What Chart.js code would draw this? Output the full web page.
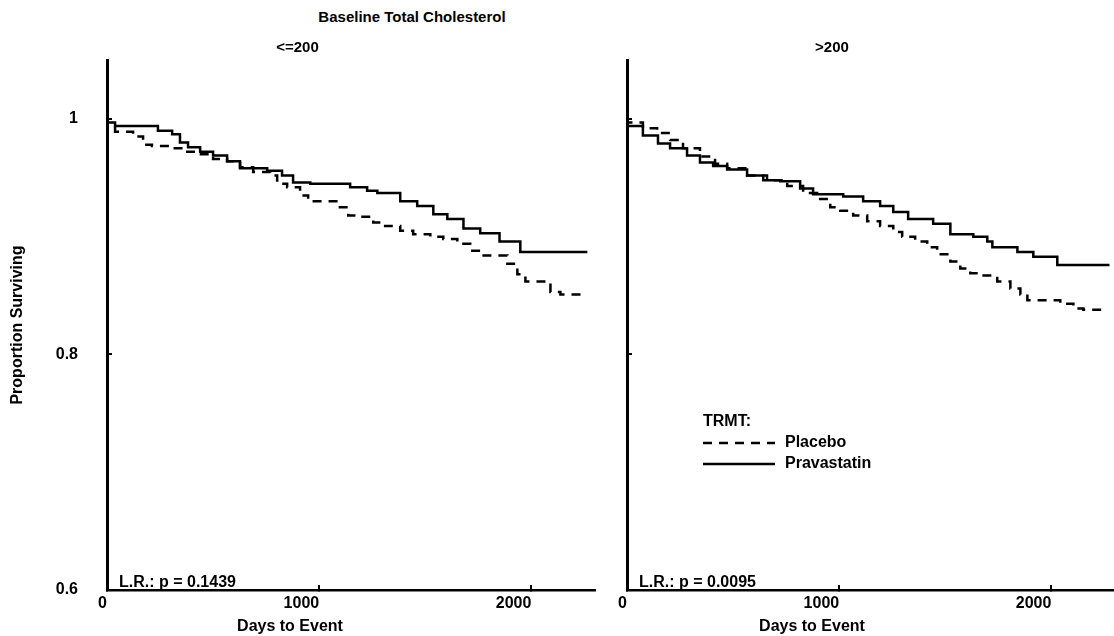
<!DOCTYPE html>
<html>
<head>
<meta charset="utf-8">
<script src="https://cdn.jsdelivr.net/npm/chart.js@4.4.1/dist/chart.umd.min.js"></script>
<style>
  html, body { margin: 0; padding: 0; background: #fff; }
  body { width: 1114px; height: 636px; position: relative; overflow: hidden;
         font-family: "Liberation Sans", Arial, sans-serif; font-weight: bold; color: #000; }
  .box { position: absolute; top: 0; height: 636px; }
  .txt { position: absolute; white-space: nowrap; line-height: 20px; }
  .legend { position: absolute; left: 703px; top: 410px; font-size: 16px; line-height: 21px; }
  .legend svg { vertical-align: middle; margin-right: 10px; }
</style>
</head>
<body>
<div class="txt" style="left:412px; top:7px; font-size:15px; transform:translateX(-50%);">Baseline Total Cholesterol</div>

<div class="box" style="left:0; width:606px;"><canvas id="left"></canvas></div>
<div class="box" style="left:549px; width:566px;"><canvas id="right"></canvas></div>

<div class="txt" style="left:290px; top:616px; font-size:16px; transform:translateX(-50%);">Days to Event</div>
<div class="txt" style="left:812px; top:616px; font-size:16px; transform:translateX(-50%);">Days to Event</div>

<div class="txt" style="left:119px; top:572px; font-size:16px;">L.R.: p = 0.1439</div>
<div class="txt" style="left:639px; top:572px; font-size:16px;">L.R.: p = 0.0095</div>

<div class="legend">
  <div>TRMT:</div>
  <div><svg width="72" height="6"><line x1="0" y1="3" x2="72" y2="3" stroke="#000" stroke-width="2.5" stroke-dasharray="9 7"/></svg>Placebo</div>
  <div><svg width="72" height="6"><line x1="0" y1="3" x2="72" y2="3" stroke="#000" stroke-width="2.5"/></svg>Pravastatin</div>
</div>

<script>
// panel titles
var panelTitles = ["<=200", ">200"];

// axis ticks
var xTicks = [0, 1000, 2000];
var xTickLabels = ["0", "1000", "2000"];
var yTicks = [0.6, 0.8, 1];
var yTickLabels = ["0.6", "0.8", "1"];

// <=200 panel, Placebo
var lowPlaceboDays = [0, 38, 123, 170, 212, 297, 368, 425, 500, 566, 627, 689, 769, 802, 849, 910, 948, 1014, 1090, 1137, 1184, 1255, 1311, 1382, 1443, 1524, 1585, 1651, 1712, 1759, 1821, 1887, 1934, 1972, 2005, 2090, 2137, 2207, 2240];
var lowPlaceboSurv = [1, 0.994, 0.989, 0.985, 0.978, 0.977, 0.975, 0.972, 0.970, 0.966, 0.964, 0.959, 0.955, 0.952, 0.945, 0.942, 0.935, 0.930, 0.930, 0.925, 0.918, 0.917, 0.912, 0.909, 0.905, 0.902, 0.900, 0.898, 0.894, 0.888, 0.884, 0.884, 0.877, 0.868, 0.862, 0.862, 0.853, 0.851, 0.851];

// <=200 panel, Pravastatin
var lowPravaDays = [0, 38, 118, 240, 307, 344, 382, 439, 500, 566, 627, 689, 755, 825, 877, 958, 1146, 1226, 1274, 1382, 1462, 1538, 1604, 1680, 1759, 1850, 1948, 2099, 2264];
var lowPravaSurv = [1, 0.997, 0.994, 0.994, 0.990, 0.987, 0.980, 0.976, 0.972, 0.969, 0.964, 0.958, 0.958, 0.956, 0.952, 0.946, 0.945, 0.942, 0.939, 0.937, 0.930, 0.926, 0.919, 0.915, 0.907, 0.903, 0.896, 0.887, 0.887];

// >200 panel, Placebo
var highPlaceboDays = [0, 75, 142, 203, 264, 344, 415, 472, 566, 660, 755, 830, 896, 958, 1005, 1066, 1132, 1193, 1255, 1297, 1358, 1415, 1462, 1524, 1571, 1618, 1665, 1745, 1807, 1854, 1887, 1962, 2042, 2104, 2151, 2255];
var highPlaceboSurv = [1, 0.997, 0.992, 0.988, 0.982, 0.975, 0.968, 0.962, 0.958, 0.952, 0.948, 0.943, 0.937, 0.932, 0.925, 0.922, 0.918, 0.913, 0.909, 0.904, 0.900, 0.896, 0.891, 0.885, 0.879, 0.873, 0.869, 0.867, 0.862, 0.856, 0.851, 0.846, 0.846, 0.843, 0.839, 0.838];

// >200 panel, Pravastatin
var highPravaDays = [0, 75, 146, 203, 283, 344, 406, 472, 566, 642, 722, 816, 877, 1019, 1113, 1193, 1255, 1325, 1443, 1524, 1632, 1698, 1722, 1840, 1915, 2028, 2057, 2274];
var highPravaSurv = [1, 0.994, 0.986, 0.979, 0.975, 0.969, 0.963, 0.960, 0.957, 0.952, 0.948, 0.947, 0.941, 0.936, 0.934, 0.930, 0.926, 0.921, 0.915, 0.911, 0.902, 0.900, 0.896, 0.891, 0.887, 0.883, 0.876, 0.876];

var font = { family: "'Liberation Sans', Arial, sans-serif", weight: "bold" };

function pts(days, surv) {
  return days.map(function (d, i) { return { x: d, y: surv[i] }; });
}

function makeChart(id, title, placebo, prava, isLeft) {
  return new Chart(document.getElementById(id), {
    type: "line",
    data: {
      datasets: [
        {
          label: "Placebo",
          data: placebo,
          borderColor: "#000",
          borderWidth: 2.5,
          borderDash: [9, 7],
          stepped: "after",
          pointRadius: 0,
          fill: false
        },
        {
          label: "Pravastatin",
          data: prava,
          borderColor: "#000",
          borderWidth: 2.5,
          stepped: "after",
          pointRadius: 0,
          fill: false
        }
      ]
    },
    options: {
      responsive: true,
      maintainAspectRatio: false,
      animation: false,
      layout: { padding: { top: 0, right: isLeft ? 11 : 0, bottom: 0, left: 0 } },
      plugins: {
        legend: { display: false },
        tooltip: { enabled: false },
        title: {
          display: true,
          text: title,
          color: "#000",
          font: Object.assign({ size: 15 }, font),
          padding: { top: 39, bottom: 3 }
        }
      },
      scales: {
        x: {
          type: "linear",
          min: 0,
          max: 2300,
          afterBuildTicks: function (s) { s.ticks = xTicks.map(function (v) { return { value: v }; }); },
          afterFit: function (s) { s.height = 46; },
          border: { display: true, color: "#000", width: 2.5 },
          grid: { drawOnChartArea: false, drawTicks: true, tickLength: -5, color: "#000", lineWidth: 2 },
          ticks: {
            align: "end",
            padding: 9,
            color: "#000",
            maxRotation: 0,
            font: Object.assign({ size: 16 }, font),
            callback: function (v, i) { return xTickLabels[i]; }
          }
        },
        y: {
          type: "linear",
          min: 0.6,
          max: 1.05,
          afterBuildTicks: function (s) { s.ticks = yTicks.map(function (v) { return { value: v }; }); },
          afterFit: function (s) { s.width = isLeft ? 107 : 78; },
          border: { display: true, color: "#000", width: 3 },
          grid: { drawOnChartArea: false, drawTicks: true, tickLength: -5, color: "#000", lineWidth: 2 },
          title: {
            display: isLeft,
            text: "Proportion Surviving",
            color: "#000",
            font: Object.assign({ size: 16 }, font),
            padding: { top: 8, bottom: 0 }
          },
          ticks: {
            display: isLeft,
            padding: 34,
            color: "#000",
            font: Object.assign({ size: 16 }, font),
            callback: function (v, i) { return yTickLabels[i]; }
          }
        }
      }
    }
  });
}

makeChart("left", panelTitles[0], pts(lowPlaceboDays, lowPlaceboSurv), pts(lowPravaDays, lowPravaSurv), true);
makeChart("right", panelTitles[1], pts(highPlaceboDays, highPlaceboSurv), pts(highPravaDays, highPravaSurv), false);
</script>
</body>
</html>
